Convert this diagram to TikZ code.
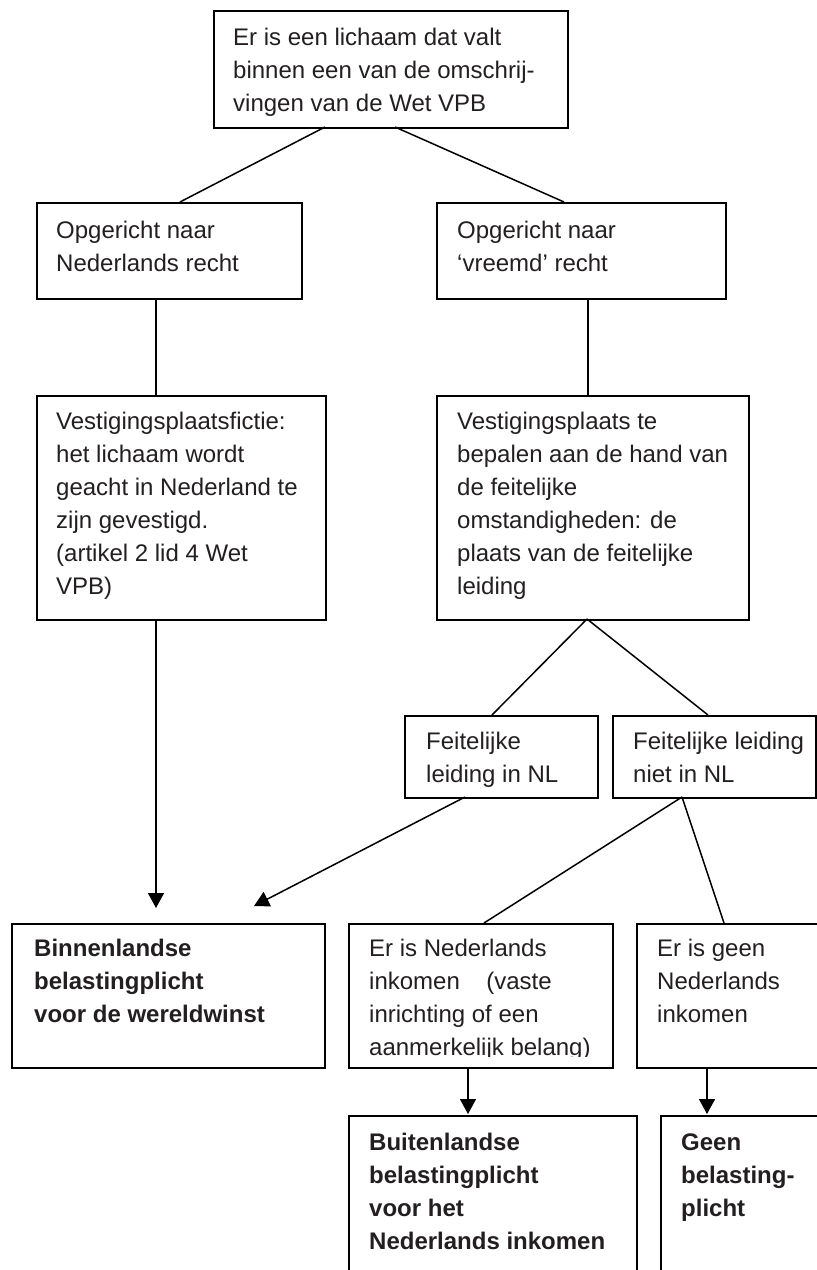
\documentclass[tikz,border=0pt]{standalone}
\usepackage{fontspec}
\setmainfont{Liberation Sans}
\usetikzlibrary{arrows.meta,calc}
\definecolor{ink}{HTML}{231F20}
\tikzset{
  box/.style={draw=black, line width=2pt, rectangle, inner sep=0pt},
  txt/.style={anchor=base west, inner sep=0pt, text=ink, font=\fontsize{24}{33}\selectfont},
  conn/.style={draw=black, line width=1.5pt},
  arr/.style={conn, -{Triangle[length=15pt,width=16pt]}}
}
\newcommand{\tb}[2]{\parbox[t]{#1}{\raggedright #2}}
\begin{document}
\begin{tikzpicture}[x=1pt,y=-1pt]
\clip (0,0) rectangle (817,1270);
\fill[white] (0,0) rectangle (817,1270);
% boxes
\node[box, minimum width=354pt, minimum height=117pt, anchor=north west] (A) at (213,10) {};
\node[box, minimum width=265pt, minimum height=96pt, anchor=north west] (B1) at (36,202) {};
\node[box, minimum width=289pt, minimum height=96pt, anchor=north west] (B2) at (436,202) {};
\node[box, minimum width=289pt, minimum height=224pt, anchor=north west] (C1) at (36,395) {};
\node[box, minimum width=312pt, minimum height=224pt, anchor=north west] (C2) at (436,395) {};
\node[box, minimum width=193pt, minimum height=82pt, anchor=north west] (D1) at (404,715) {};
\node[box, minimum width=203pt, minimum height=82pt, anchor=north west] (D2) at (612,715) {};
\node[box, minimum width=313pt, minimum height=144pt, anchor=north west] (E1) at (11,923) {};
\node[box, minimum width=264pt, minimum height=144pt, anchor=north west] (E2) at (348,923) {};
\node[box, minimum width=200pt, minimum height=144pt, anchor=north west] (E3) at (636,923) {};
\node[box, minimum width=288pt, minimum height=180pt, anchor=north west] (F2) at (348,1115) {};
\node[box, minimum width=180pt, minimum height=180pt, anchor=north west] (F3) at (660,1115) {};
% texts
\node[txt] (tA) at (233,45) {\tb{330pt}{Er is een lichaam dat valt\\binnen een van de omschrij-\\vingen van de Wet VPB}};
\node[txt] (tB1) at (56,238) {\tb{240pt}{Opgericht naar\\Nederlands recht}};
\node[txt] (tB2) at (457,238) {\tb{260pt}{Opgericht naar\\‘vreemd’ recht}};
\node[txt] (tC1) at (56,429) {\tb{265pt}{Vestigingsplaatsfictie:\\het lichaam wordt\\geacht in Nederland te\\zijn gevestigd.\\(artikel 2 lid 4 Wet\\VPB)}};
\node[txt] (tC2) at (457,429) {\tb{290pt}{Vestigingsplaats te\\bepalen aan de hand van\\de feitelijke\\omstandigheden: de\\plaats van de feitelijke\\leiding}};
\node[txt] (tD1) at (426,749) {\tb{170pt}{Feitelijke\\leiding in NL}};
\node[txt] (tD2) at (633,749) {\tb{190pt}{Feitelijke leiding\\niet in NL}};
\node[txt, font=\fontsize{24}{33}\selectfont\bfseries] (tE1) at (34,956) {\tb{285pt}{Binnenlandse\\belastingplicht\\voor de wereldwinst}};
\begin{scope}
\clip (348,923) rectangle (612,1056);
\node[txt] (tE2) at (369,956) {\tb{240pt}{Er is Nederlands\\inkomen\hspace{1.1em}(vaste\\inrichting of een\\aanmerkelijk belang)}};
\end{scope}
\node[txt] (tE3) at (657,956) {\tb{170pt}{Er is geen\\Nederlands\\inkomen}};
\node[txt, font=\fontsize{24}{33}\selectfont\bfseries] (tF2) at (369,1150) {\tb{265pt}{Buitenlandse\\belastingplicht\\voor het\\Nederlands inkomen}};
\node[txt, font=\fontsize{24}{33}\selectfont\bfseries] (tF3) at (681,1150) {\tb{150pt}{Geen\\belasting-\\plicht}};
% attachment coordinates
\coordinate (aA1) at (325,127);
\coordinate (aA2) at (395,127);
\coordinate (aB1t) at (180,202);
\coordinate (aB2t) at (564,202);
\coordinate (aC1b) at (156,619);
\coordinate (aE1t) at (156,908);
\coordinate (aC2b) at (587,619);
\coordinate (aD1t) at (492,715);
\coordinate (aD2t) at (708,715);
\coordinate (aD1b) at (465,797);
\coordinate (aE1t2) at (254,906);
\coordinate (aD2b) at (682,797);
\coordinate (aE2t) at (484,923);
\coordinate (aE3t) at (724,923);
\coordinate (aF2t) at (468,1114);
\coordinate (aF3t) at (707,1114);
% connectors
\draw[conn] (aA1) -- (aB1t);
\draw[conn] (aA2) -- (aB2t);
\draw[conn] (B1.south west -| 156,0) -- (C1.north west -| 156,0);
\draw[conn] (B2.south west -| 588,0) -- (C2.north west -| 588,0);
\draw[arr] (aC1b) -- (aE1t);
\draw[conn] (aC2b) -- (aD1t);
\draw[conn] (aC2b) -- (aD2t);
\draw[arr] (aD1b) -- (aE1t2);
\draw[conn] (aD2b) -- (aE2t);
\draw[conn] (aD2b) -- (aE3t);
\draw[arr] (E2.south west -| aF2t) -- (aF2t);
\draw[arr] (E3.south west -| aF3t) -- (aF3t);
\end{tikzpicture}
\end{document}
